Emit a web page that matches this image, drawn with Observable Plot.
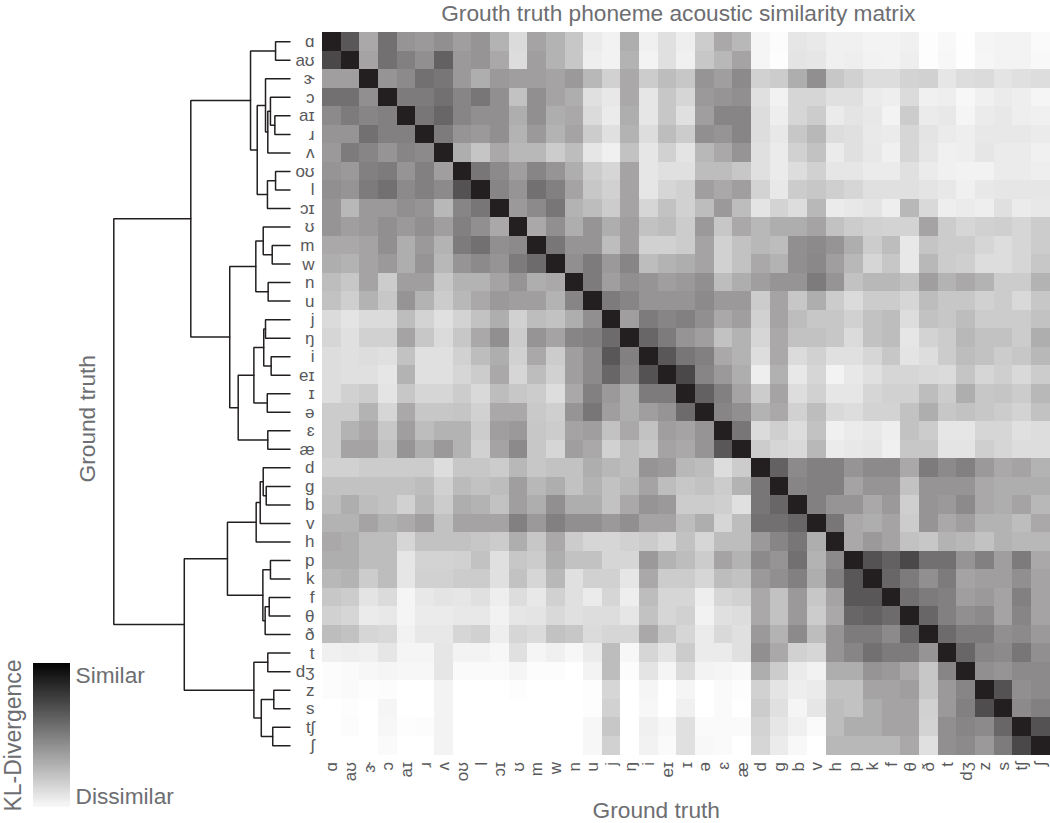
<!DOCTYPE html>
<html>
<head>
<meta charset="utf-8">
<script src="https://cdn.jsdelivr.net/npm/d3@7"></script>
<script src="https://cdn.jsdelivr.net/npm/@observablehq/plot@0.6"></script>
<style>
html,body{margin:0;padding:0;background:#fff;overflow:hidden}
#chart{position:relative;width:1050px;height:823px}
#chart svg{position:absolute;left:0;top:0;background:transparent;max-width:none;overflow:visible}
</style>
</head>
<body>
<div id="chart"></div>
<script>
const phonemes = ["ɑ","aʊ","ɝ","ɔ","aɪ","ɹ","ʌ","oʊ","l","ɔɪ","ʊ","m","w","n","u","j","ŋ","i","eɪ","ɪ","ə","ɛ","æ","d","g","b","v","h","p","k","f","θ","ð","t","dʒ","z","s","tʃ","ʃ"];

// Dissimilarity, one row per phoneme (35 = most similar, 255 = least similar)
const matrix = [
[35,90,170,115,150,155,145,160,150,180,220,165,180,200,235,242,175,240,225,238, 205,170,185,245,252,230,233,240,240,243,243,240,253,248,254,245,243,243,250],
[75,35,165,115,130,145,100,155,150,170,222,160,180,200,238,242,180,243,225,240, 200,185,165,245,253,228,230,240,238,242,243,238,253,247,254,246,243,243,248],
[160,160,35,150,140,115,120,155,175,155,160,160,165,155,185,210,170,205,190,200, 150,160,140,210,205,175,145,200,210,222,222,212,210,230,222,220,228,225,222],
[115,115,145,35,125,125,115,135,120,145,195,145,165,175,225,232,170,230,200,215, 155,150,145,225,242,215,215,225,225,235,238,220,240,238,247,240,235,238,245],
[140,125,135,130,35,120,105,135,145,145,175,145,175,170,220,235,175,230,200,225, 160,135,135,222,238,215,205,235,228,232,243,205,235,232,245,235,232,238,240],
[150,150,115,130,130,35,125,150,155,145,180,155,180,165,205,225,180,222,190,205, 145,150,135,222,232,200,185,222,225,233,235,215,228,235,238,232,232,232,235],
[155,125,135,150,135,140,35,175,198,170,185,185,205,190,230,240,195,230,210,228, 185,170,150,225,235,210,195,235,225,232,240,215,230,240,238,230,235,235,240],
[150,155,130,125,150,130,160,35,120,140,160,135,150,175,205,215,165,230,225,225, 190,190,200,225,235,222,210,230,230,235,235,225,235,240,242,242,235,235,238],
[145,150,125,115,140,130,140,85,35,135,150,115,130,165,200,210,165,230,215,210, 160,170,160,212,232,205,200,208,215,225,225,225,228,232,240,232,230,230,230],
[150,185,155,155,145,150,185,135,120,35,155,140,120,180,190,205,165,215,195,210, 190,155,190,228,212,222,185,235,232,228,238,185,218,238,235,238,225,235,232],
[150,160,155,145,155,145,160,130,145,170,35,170,145,175,150,175,160,195,190,205, 155,200,170,185,175,175,165,195,205,210,212,212,165,205,215,210,208,215,205],
[170,170,165,145,175,155,180,125,115,145,140,35,120,150,150,190,160,210,210,205, 165,210,195,185,190,145,140,150,175,205,190,232,198,205,205,215,222,215,205],
[175,180,165,155,175,150,185,150,140,150,125,110,35,145,125,155,135,190,180,175, 165,210,195,170,180,145,138,160,185,215,200,232,185,205,208,222,222,215,200],
[190,200,165,205,160,160,200,180,180,165,150,175,170,35,125,160,145,150,160,155, 145,190,175,160,150,150,125,150,195,185,185,195,160,180,170,180,205,205,180],
[195,208,180,200,150,180,205,185,170,155,160,160,180,135,35,125,135,150,150,150, 140,155,155,205,165,200,175,205,220,205,205,215,190,200,200,210,205,218,200],
[220,228,220,220,190,212,225,212,195,175,210,190,195,175,145,35,160,125,135,130, 145,170,160,210,165,190,200,200,210,195,190,222,195,200,190,205,205,205,195],
[215,225,210,210,165,200,220,200,170,145,205,150,165,135,130,110,35,105,125,150, 160,195,180,215,170,195,195,200,220,195,190,230,212,205,185,195,195,205,175],
[222,225,222,225,195,225,225,210,190,175,210,170,205,160,140,90,130,35,90,120, 130,170,180,222,170,220,210,225,225,215,200,228,222,205,190,195,205,200,185],
[222,225,225,230,180,225,225,215,205,170,215,190,210,160,140,105,135,85,35,75, 135,155,175,238,178,232,215,243,232,225,215,215,218,220,198,215,208,218,205],
[222,210,205,228,200,215,215,205,218,190,200,205,222,170,130,155,175,125,125,35, 100,130,165,205,165,222,210,230,230,215,210,210,190,205,175,200,198,205,185],
[205,205,180,215,170,200,200,198,210,170,170,202,208,150,120,160,175,160,150,110, 35,135,145,180,170,210,190,218,222,212,212,195,175,200,195,200,205,212,195],
[205,180,170,200,160,190,180,180,205,160,155,200,205,165,160,195,170,195,160,165, 150,35,120,220,208,222,195,240,235,232,238,195,205,230,230,215,215,225,222],
[205,165,165,195,150,175,155,180,210,165,140,200,215,160,170,210,190,200,165,170, 150,90,35,205,215,218,185,235,232,230,240,200,200,228,228,208,215,222,222],
[210,210,205,205,205,205,222,200,200,205,185,200,195,195,175,185,190,150,155,185, 190,222,205,35,100,140,130,130,150,140,140,170,125,140,130,155,170,165,180],
[195,195,195,195,195,190,210,188,195,190,160,185,175,195,180,195,185,165,190,200, 195,205,180,120,35,135,130,130,165,150,150,195,150,150,150,170,175,175,175],
[190,175,190,195,210,185,205,175,180,195,160,175,145,175,175,195,170,150,155,205, 205,208,225,120,105,35,130,150,150,170,155,208,150,155,140,170,175,165,185],
[180,180,165,178,172,160,195,165,165,165,130,155,130,145,145,155,145,165,165,190, 175,215,190,115,115,105,35,120,170,175,165,205,150,170,160,180,180,190,170],
[170,175,190,190,215,195,195,195,200,205,175,200,170,205,215,215,210,205,215,195, 215,190,190,155,135,120,175,35,170,155,165,195,200,180,185,195,180,185,185],
[175,175,190,190,230,212,212,210,195,225,200,205,175,195,195,215,215,155,180,190, 205,165,180,140,150,115,180,140,35,85,100,75,115,115,150,130,160,125,170],
[185,180,205,190,230,210,210,205,205,225,195,215,185,225,210,210,230,170,205,205, 215,190,195,155,145,130,175,130,90,35,105,125,145,125,165,160,160,145,165],
[200,205,228,220,245,232,228,230,225,238,222,232,210,225,235,215,238,190,215,215, 238,215,210,170,195,155,200,165,90,90,35,115,125,130,160,155,165,130,165],
[210,215,235,232,245,235,235,232,232,242,230,228,218,225,222,222,230,195,215,210, 242,225,222,170,195,155,205,170,105,100,110,35,105,130,145,140,165,135,165],
[190,195,215,218,242,232,232,215,210,238,215,220,195,200,220,215,215,170,200,215, 235,218,225,155,180,140,190,150,125,125,140,105,35,110,125,125,145,140,155],
[240,238,240,230,245,245,230,243,243,247,225,245,240,247,235,190,247,215,228,205, 235,235,225,145,170,210,215,150,135,115,125,125,150,35,105,135,140,120,145],
[252,250,247,245,247,247,230,250,250,250,245,252,252,255,243,190,252,228,245,220, 243,245,248,175,205,235,242,175,175,150,155,170,200,135,35,145,150,140,140],
[252,250,253,252,255,255,243,255,255,255,253,255,255,255,253,215,255,245,255,245, 255,250,253,210,228,238,235,195,195,165,165,160,200,155,135,35,85,145,140],
[255,253,255,245,255,255,243,255,255,255,255,255,255,255,253,210,255,247,255,240, 255,250,255,205,225,245,230,190,195,175,165,165,210,155,130,80,35,140,130],
[255,252,255,247,253,252,243,255,255,255,255,255,255,255,247,200,255,240,247,225, 250,250,250,212,230,240,250,190,175,175,165,165,212,145,135,140,105,35,85],
[255,255,255,250,255,255,243,255,255,255,255,255,255,255,247,210,255,242,250,225, 248,250,255,215,235,248,255,185,185,185,185,170,225,145,140,155,125,75,35]
];

// Dendrogram: [merge distance, left branch, right branch]
const clusterA = [22.4, [8.2,"ɑ","aʊ"],
  [18.6, [13.9,"ɝ",[12.6,[11.1,"ɔ",[8.6,"aɪ","ɹ"]],"ʌ"]], [12.8,[8.2,"oʊ","l"],"ɔɪ"]]];
const clusterB = [34.2,
  [19.4,[15.2,"ʊ",[10.1,"m","w"]],[12.4,"n","u"]],
  [29.4,[20.5,[14.9,[13.9,"j","ŋ"],[10.7,"i","eɪ"]],[12.9,"ɪ","ə"]],[12.6,"ɛ","æ"]]];
const clusterC = [60,
  [35.5,[19.2,[16.9,[15.2,"d",[13.5,"g","b"]],"v"],"h"],
        [15.4,[11.1,"p","k"],[14.1,[11.8,"f","θ"],"ð"]]],
  [20.5,[12.6,"t","dʒ"],[16.3,[9.2,"z","s"],[9.8,"tʃ","ʃ"]]]];
const tree = [100,[56.3,clusterA,clusterB],clusterC];

const title = "Grouth truth phoneme acoustic similarity matrix";
const axisTitle = "Ground truth";
const legendTitle = "KL-Divergence";
const legendEnds = ["Similar","Dissimilar"];
const legendSteps = d3.range(4, 250, 2);

const font = "'Liberation Sans','DejaVu Sans',sans-serif";
const ink = "#6d6e71";
const tickInk = "#58595b";

const cells = matrix.flatMap((row,i)=>row.map((v,j)=>({row:phonemes[i],col:phonemes[j],v})));

// Flatten the tree into elbow paths
const links = [];
let nodeId = 0;
function walk(n){
  if (typeof n === "string") return {d:0,pos:phonemes.indexOf(n)+0.5};
  const a = walk(n[1]), b = walk(n[2]), d = n[0], id = nodeId++;
  links.push({id,d:a.d,pos:a.pos},{id,d,pos:a.pos},{id,d,pos:b.pos},{id,d:b.d,pos:b.pos});
  return {d,pos:(a.pos+b.pos)/2};
}
walk(tree);

const W=1050,H=823;
const main = Plot.plot({
  width:W,height:H,
  marginLeft:322,marginRight:0.5,marginTop:32,marginBottom:68.5,
  style:{fontFamily:font,background:"transparent"},
  x:{type:"band",domain:phonemes,padding:0,round:false,label:null},
  y:{type:"band",domain:phonemes,padding:0,round:false,label:null},
  color:{type:"linear",domain:[35,255],range:["#231f20","#ffffff"]},
  marks:[
    Plot.cell(cells,{x:"col",y:"row",fill:"v",inset:0,shapeRendering:"crispEdges"}),
    Plot.axisX({anchor:"bottom",label:null,tickSize:0,tickPadding:7,tickRotate:-90,fontSize:17,fill:tickInk}),
    Plot.axisY({anchor:"left",label:null,tickSize:0,tickPadding:8,fontSize:17,fill:tickInk}),
    Plot.text([title],{frameAnchor:"top",dx:-8,dy:-28,lineAnchor:"top",fontSize:22.7,fill:ink}),
    Plot.text([axisTitle],{frameAnchor:"bottom",dx:-30,dy:47,lineAnchor:"top",fontSize:22.7,fill:ink}),
    Plot.text([axisTitle],{frameAnchor:"left",dx:-235,dy:25,rotate:-90,textAnchor:"middle",fontSize:22.7,fill:ink})
  ]
});

const dendro = Plot.plot({
  width:322,height:H,
  marginLeft:113.3,marginRight:32.5,marginTop:32,marginBottom:68.5,
  style:{background:"transparent"},
  x:{domain:[100,0],axis:null},
  y:{domain:[39,0],axis:null},
  marks:[
    Plot.line(links,{x:"d",y:"pos",z:"id",stroke:"#231f20",strokeWidth:1.5,curve:"linear",strokeLinejoin:"miter"})
  ]
});

const legend = Plot.plot({
  width:200,height:183,
  marginLeft:33,marginRight:130,marginTop:23,marginBottom:16,
  style:{fontFamily:font,background:"transparent"},
  x:{domain:[0,1],axis:null},
  y:{domain:[250,4],axis:null},
  color:{type:"linear",domain:[0,255],range:["#000000","#ffffff"]},
  marks:[
    Plot.rect(legendSteps,{x1:0,x2:1,y1:d=>d,y2:d=>d+2,fill:d=>d,shapeRendering:"crispEdges"}),
    Plot.text([legendEnds[0]],{frameAnchor:"top-right",textAnchor:"start",dx:5,dy:12,lineAnchor:"middle",fontSize:22.7,fill:ink}),
    Plot.text([legendEnds[1]],{frameAnchor:"bottom-right",textAnchor:"start",dx:5,dy:-11,lineAnchor:"middle",fontSize:22.7,fill:ink}),
    Plot.text([legendTitle],{frameAnchor:"left",dx:-20,rotate:-90,textAnchor:"middle",fontSize:23,fill:ink})
  ]
});
legend.style.top = "640px";

const root = document.getElementById("chart");
root.append(main,dendro,legend);
</script>
</body>
</html>
